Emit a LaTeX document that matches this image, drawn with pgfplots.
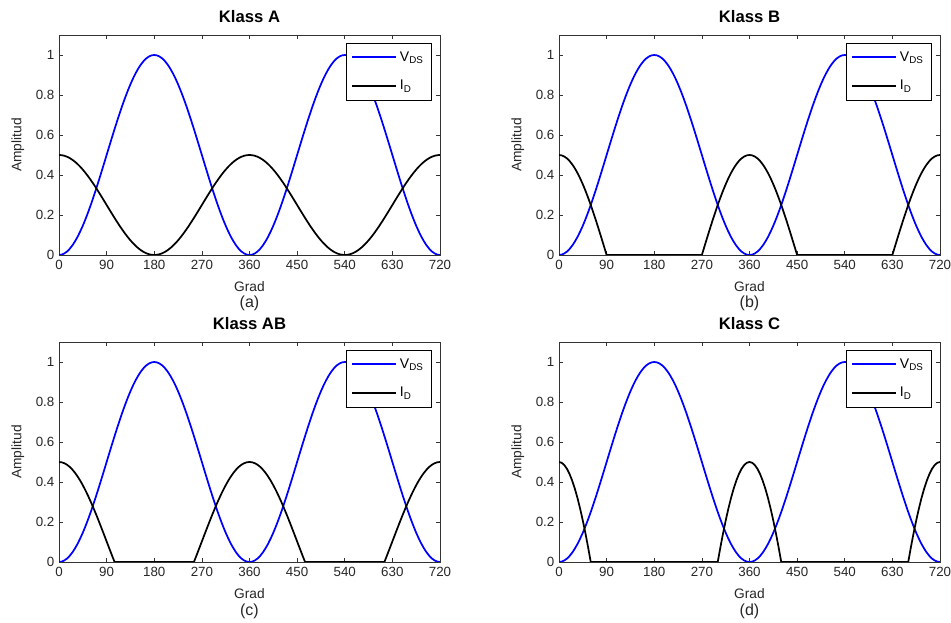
\documentclass[border=0pt]{standalone}
\usepackage{fontspec}
\setmainfont{Liberation Sans}
\usepackage{pgfplots}
\usepackage{pgfplotstable}
\pgfplotsset{compat=1.18}
\pgfplotstableread{
x v a b ab c
0 0 0.5 0.5 0.5 0.5
5 0.0019 0.4990 0.4981 0.4985 0.4962
10 0.0076 0.4962 0.4924 0.4940 0.4848
15 0.0170 0.4915 0.4830 0.4865 0.4659
20 0.0302 0.4849 0.4698 0.4760 0.4397
25 0.0468 0.4766 0.4532 0.4628 0.4063
30 0.0670 0.4665 0.4330 0.4468 0.3660
35 0.0904 0.4548 0.4096 0.4282 0.3192
40 0.1170 0.4415 0.3830 0.4071 0.2660
45 0.1464 0.4268 0.3536 0.3837 0.2071
50 0.1786 0.4107 0.3214 0.3581 0.1428
55 0.2132 0.3934 0.2868 0.3306 0.0736
60 0.2500 0.3750 0.2500 0.3014 0
65 0.2887 0.3557 0.2113 0.2707 0
70 0.3290 0.3355 0.1710 0.2387 0
75 0.3706 0.3147 0.1294 0.2056 0
80 0.4132 0.2934 0.0868 0.1718 0
85 0.4564 0.2718 0.0436 0.1374 0
90 0.5000 0.2500 0 0.1028 0
95 0.5436 0.2282 0 0.0682 0
100 0.5868 0.2066 0 0.0338 0
105 0.6294 0.1853 0 0 0
110 0.6710 0.1645 0 0 0
115 0.7113 0.1443 0 0 0
120 0.7500 0.1250 0 0 0
125 0.7868 0.1066 0 0 0
130 0.8214 0.0893 0 0 0
135 0.8536 0.0732 0 0 0
140 0.8830 0.0585 0 0 0
145 0.9096 0.0452 0 0 0
150 0.9330 0.0335 0 0 0
155 0.9532 0.0234 0 0 0
160 0.9698 0.0151 0 0 0
165 0.9830 0.0085 0 0 0
170 0.9924 0.0038 0 0 0
175 0.9981 0.0010 0 0 0
180 1 0 0 0 0
185 0.9981 0.0010 0 0 0
190 0.9924 0.0038 0 0 0
195 0.9830 0.0085 0 0 0
200 0.9698 0.0151 0 0 0
205 0.9532 0.0234 0 0 0
210 0.9330 0.0335 0 0 0
215 0.9096 0.0452 0 0 0
220 0.8830 0.0585 0 0 0
225 0.8536 0.0732 0 0 0
230 0.8214 0.0893 0 0 0
235 0.7868 0.1066 0 0 0
240 0.7500 0.1250 0 0 0
245 0.7113 0.1443 0 0 0
250 0.6710 0.1645 0 0 0
255 0.6294 0.1853 0 0 0
260 0.5868 0.2066 0 0.0338 0
265 0.5436 0.2282 0 0.0682 0
270 0.5000 0.2500 0 0.1028 0
275 0.4564 0.2718 0.0436 0.1374 0
280 0.4132 0.2934 0.0868 0.1718 0
285 0.3706 0.3147 0.1294 0.2056 0
290 0.3290 0.3355 0.1710 0.2387 0
295 0.2887 0.3557 0.2113 0.2707 0
300 0.2500 0.3750 0.2500 0.3014 0
305 0.2132 0.3934 0.2868 0.3306 0.0736
310 0.1786 0.4107 0.3214 0.3581 0.1428
315 0.1464 0.4268 0.3536 0.3837 0.2071
320 0.1170 0.4415 0.3830 0.4071 0.2660
325 0.0904 0.4548 0.4096 0.4282 0.3192
330 0.0670 0.4665 0.4330 0.4468 0.3660
335 0.0468 0.4766 0.4532 0.4628 0.4063
340 0.0302 0.4849 0.4698 0.4760 0.4397
345 0.0170 0.4915 0.4830 0.4865 0.4659
350 0.0076 0.4962 0.4924 0.4940 0.4848
355 0.0019 0.4990 0.4981 0.4985 0.4962
360 0 0.5 0.5 0.5 0.5
365 0.0019 0.4990 0.4981 0.4985 0.4962
370 0.0076 0.4962 0.4924 0.4940 0.4848
375 0.0170 0.4915 0.4830 0.4865 0.4659
380 0.0302 0.4849 0.4698 0.4760 0.4397
385 0.0468 0.4766 0.4532 0.4628 0.4063
390 0.0670 0.4665 0.4330 0.4468 0.3660
395 0.0904 0.4548 0.4096 0.4282 0.3192
400 0.1170 0.4415 0.3830 0.4071 0.2660
405 0.1464 0.4268 0.3536 0.3837 0.2071
410 0.1786 0.4107 0.3214 0.3581 0.1428
415 0.2132 0.3934 0.2868 0.3306 0.0736
420 0.2500 0.3750 0.2500 0.3014 0
425 0.2887 0.3557 0.2113 0.2707 0
430 0.3290 0.3355 0.1710 0.2387 0
435 0.3706 0.3147 0.1294 0.2056 0
440 0.4132 0.2934 0.0868 0.1718 0
445 0.4564 0.2718 0.0436 0.1374 0
450 0.5000 0.2500 0 0.1028 0
455 0.5436 0.2282 0 0.0682 0
460 0.5868 0.2066 0 0.0338 0
465 0.6294 0.1853 0 0 0
470 0.6710 0.1645 0 0 0
475 0.7113 0.1443 0 0 0
480 0.7500 0.1250 0 0 0
485 0.7868 0.1066 0 0 0
490 0.8214 0.0893 0 0 0
495 0.8536 0.0732 0 0 0
500 0.8830 0.0585 0 0 0
505 0.9096 0.0452 0 0 0
510 0.9330 0.0335 0 0 0
515 0.9532 0.0234 0 0 0
520 0.9698 0.0151 0 0 0
525 0.9830 0.0085 0 0 0
530 0.9924 0.0038 0 0 0
535 0.9981 0.0010 0 0 0
540 1 0 0 0 0
545 0.9981 0.0010 0 0 0
550 0.9924 0.0038 0 0 0
555 0.9830 0.0085 0 0 0
560 0.9698 0.0151 0 0 0
565 0.9532 0.0234 0 0 0
570 0.9330 0.0335 0 0 0
575 0.9096 0.0452 0 0 0
580 0.8830 0.0585 0 0 0
585 0.8536 0.0732 0 0 0
590 0.8214 0.0893 0 0 0
595 0.7868 0.1066 0 0 0
600 0.7500 0.1250 0 0 0
605 0.7113 0.1443 0 0 0
610 0.6710 0.1645 0 0 0
615 0.6294 0.1853 0 0 0
620 0.5868 0.2066 0 0.0338 0
625 0.5436 0.2282 0 0.0682 0
630 0.5000 0.2500 0 0.1028 0
635 0.4564 0.2718 0.0436 0.1374 0
640 0.4132 0.2934 0.0868 0.1718 0
645 0.3706 0.3147 0.1294 0.2056 0
650 0.3290 0.3355 0.1710 0.2387 0
655 0.2887 0.3557 0.2113 0.2707 0
660 0.2500 0.3750 0.2500 0.3014 0
665 0.2132 0.3934 0.2868 0.3306 0.0736
670 0.1786 0.4107 0.3214 0.3581 0.1428
675 0.1464 0.4268 0.3536 0.3837 0.2071
680 0.1170 0.4415 0.3830 0.4071 0.2660
685 0.0904 0.4548 0.4096 0.4282 0.3192
690 0.0670 0.4665 0.4330 0.4468 0.3660
695 0.0468 0.4766 0.4532 0.4628 0.4063
700 0.0302 0.4849 0.4698 0.4760 0.4397
705 0.0170 0.4915 0.4830 0.4865 0.4659
710 0.0076 0.4962 0.4924 0.4940 0.4848
715 0.0019 0.4990 0.4981 0.4985 0.4962
720 0 0.5 0.5 0.5 0.5
}\datatab
\pgfplotsset{
  panel/.style={
    scale only axis, width=285.75pt, height=165pt, anchor=south west,
    xmin=0, xmax=720, ymin=0, ymax=1.1,
    xtick={0,90,180,270,360,450,540,630,720},
    ytick={0,0.2,0.4,0.6,0.8,1},
    yticklabels={0,0.2,0.4,0.6,0.8,1},
    /pgf/number format/assume math mode=true,
    tick label style={font=\fontsize{10}{12}\selectfont, text=black!85},
    tick align=inside, major tick length=3pt,
    axis line style={line width=0.6pt, black!80},
    every tick/.style={black!80, line width=0.5pt},
    xlabel={Grad}, ylabel={Amplitud},
    label style={font=\fontsize{10.3}{12}\selectfont, text=black!85},
    xlabel style={at={(axis description cs:0.5,-0.145)}, anchor=center},
    ylabel style={at={(axis description cs:-0.108,0.5)}, anchor=center, rotate=0},
    every axis title/.style={at={(axis description cs:0.5,1.086)}, anchor=center, font=\fontsize{12.5}{14}\selectfont\bfseries},
    clip mode=individual,
    legend cell align=left,
    legend image code/.code={\draw[#1, line width=1.3pt] (0pt,0pt) -- (33pt,0pt);},
    legend style={at={(axis description cs:0.979,0.9636)}, anchor=north east,
      font=\fontsize{10.5}{12}\selectfont, draw=black, line width=0.6pt,
      inner xsep=4pt, inner ysep=4pt, row sep=9pt,
      /tikz/every even column/.append style={column sep=2pt}},
  },
  vds/.style={blue, line width=1.3pt},
  idd/.style={black, line width=1.3pt},
}
\begin{document}
\begin{tikzpicture}
\path[use as bounding box] (0,0) rectangle (713.25pt,467.25pt);
\begin{axis}[panel, at={(44.25pt,276pt)}, title={Klass A}]
\addplot[vds] table[x=x,y=v]{\datatab};
\addlegendentry{V\textsubscript{DS}}
\addplot[idd] table[x=x,y=a]{\datatab};
\addlegendentry{I\textsubscript{D}}
\node[font=\fontsize{12}{14}\selectfont, text=black!85] at (axis description cs:0.5,-0.22) {(a)};
\end{axis}
\begin{axis}[panel, at={(419.25pt,276pt)}, title={Klass B}]
\addplot[vds] table[x=x,y=v]{\datatab};
\addlegendentry{V\textsubscript{DS}}
\addplot[idd] table[x=x,y=b]{\datatab};
\addlegendentry{I\textsubscript{D}}
\node[font=\fontsize{12}{14}\selectfont, text=black!85] at (axis description cs:0.5,-0.22) {(b)};
\end{axis}
\begin{axis}[panel, at={(44.25pt,45.75pt)}, title={Klass AB}]
\addplot[vds] table[x=x,y=v]{\datatab};
\addlegendentry{V\textsubscript{DS}}
\addplot[idd] table[x=x,y=ab]{\datatab};
\addlegendentry{I\textsubscript{D}}
\node[font=\fontsize{12}{14}\selectfont, text=black!85] at (axis description cs:0.5,-0.225) {(c)};
\end{axis}
\begin{axis}[panel, at={(419.25pt,45.75pt)}, title={Klass C}]
\addplot[vds] table[x=x,y=v]{\datatab};
\addlegendentry{V\textsubscript{DS}}
\addplot[idd] table[x=x,y=c]{\datatab};
\addlegendentry{I\textsubscript{D}}
\node[font=\fontsize{12}{14}\selectfont, text=black!85] at (axis description cs:0.5,-0.225) {(d)};
\end{axis}
\end{tikzpicture}
\end{document}
